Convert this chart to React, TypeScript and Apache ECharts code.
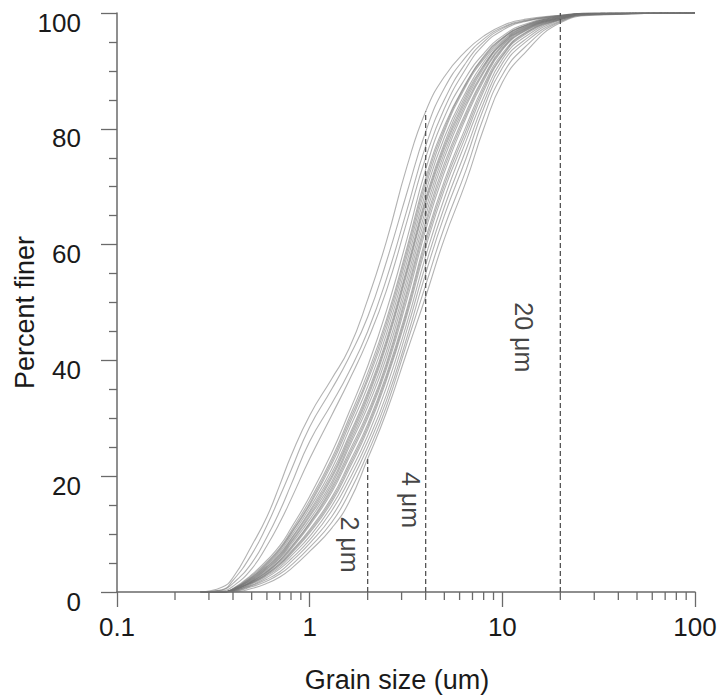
import React, { useEffect, useRef } from "react";
import * as echarts from "echarts";

// Grain size grid (um) shared by all curves
const grainSizes = [0.27, 0.35, 0.4, 0.5, 0.6, 0.7, 0.8, 1, 1.3, 1.6, 2, 2.5, 3.2, 4, 5, 6.5, 8, 10, 13, 20, 30, 100];

// Percent finer for each sample
const curves: number[][] = [
  // early / steep samples
  [0, 0.8, 2.5, 8, 13, 18.5, 23.5, 30.5, 36.8, 42, 50.5, 60.5, 73.5, 83, 89, 93.5, 96, 97.8, 98.9, 99.6, 100, 100],
  [0, 0.4, 2, 6.5, 11.5, 16.5, 21, 28.5, 35, 40.5, 47.5, 57, 69, 79.5, 87, 92.5, 95.5, 97.5, 98.7, 99.6, 100, 100],
  [0, 0.3, 1.5, 5, 9.5, 14, 18.5, 26, 32.5, 38, 45, 54, 66, 77, 85, 91.5, 95, 97.3, 98.6, 99.5, 100, 100],
  [0, 0.2, 1, 4, 8, 12, 16, 23, 30.5, 36.5, 43.5, 52, 64, 75, 83.5, 90.5, 94.5, 97, 98.5, 99.5, 100, 100],
  // main band
  [0, 0, 0.6, 3, 5.5, 8, 11, 16.5, 24, 31, 39, 48.5, 61, 73, 82, 89, 93, 96, 98, 99.5, 99.9, 100],
  [0, 0, 0.5, 2.8, 5.2, 7.6, 10.5, 15.8, 23, 30, 37.8, 47, 59.5, 71.5, 80.5, 88, 92.5, 95.7, 97.8, 99.4, 99.9, 100],
  [0, 0, 0.5, 2.6, 5, 7.4, 10.2, 15.3, 22.5, 29.4, 37, 46.3, 58.8, 70.8, 80, 87.8, 92.3, 95.6, 97.8, 99.4, 99.9, 100],
  [0, 0, 0.5, 2.5, 4.8, 7.2, 10, 15, 22, 28.8, 36.5, 45.5, 58, 70, 79.5, 87.5, 92, 95.5, 97.7, 99.4, 99.9, 100],
  [0, 0, 0.4, 2.4, 4.6, 6.9, 9.6, 14.5, 21.2, 28, 35.5, 44.5, 57, 69, 78.5, 86.5, 91.5, 95.2, 97.6, 99.3, 99.9, 100],
  [0, 0, 0.4, 2.3, 4.4, 6.6, 9.2, 14, 20.5, 27, 34.5, 43.5, 56, 68, 77.5, 86, 91, 95, 97.5, 99.3, 99.9, 100],
  [0, 0, 0.4, 2.2, 4.3, 6.4, 9, 13.7, 20, 26.5, 34, 43, 55.5, 67.5, 77, 85.5, 90.8, 94.8, 97.4, 99.2, 99.9, 100],
  [0, 0, 0.4, 2.1, 4.1, 6.2, 8.7, 13.3, 19.6, 26, 33.5, 42.5, 55, 67, 76.5, 85, 90.5, 94.7, 97.3, 99.2, 99.9, 100],
  [0, 0, 0.4, 2, 4, 6, 8.5, 13, 19, 25.5, 32.8, 41.5, 54, 66, 75.8, 84.5, 90, 94.5, 97.2, 99.2, 99.9, 100],
  [0, 0, 0.3, 1.9, 3.8, 5.8, 8.2, 12.5, 18.5, 25, 32, 40.5, 53, 65, 75, 84, 89.7, 94.3, 97.1, 99.1, 99.9, 100],
  [0, 0, 0.3, 1.8, 3.6, 5.5, 7.8, 12, 18, 24.2, 31, 39.5, 52, 64, 74, 83, 89, 94, 97, 99.1, 99.9, 100],
  [0, 0, 0.3, 1.8, 3.5, 5.4, 7.6, 11.8, 17.6, 23.7, 30.5, 39, 51.3, 63.3, 73.3, 82.5, 88.7, 93.8, 96.9, 99.1, 99.9, 100],
  [0, 0, 0.3, 1.7, 3.4, 5.2, 7.4, 11.5, 17.2, 23.2, 30, 38.5, 50.5, 62.5, 72.5, 82, 88.3, 93.6, 96.8, 99, 99.9, 100],
  [0, 0, 0.3, 1.6, 3.2, 4.9, 7, 10.8, 16.3, 22.2, 29, 37.5, 49, 61, 71, 80.5, 87.5, 93, 96.5, 99, 99.8, 100],
  [0, 0, 0.3, 1.6, 3.1, 4.8, 6.8, 10.5, 15.9, 21.7, 28.5, 37, 48.4, 60.3, 70.3, 79.8, 87, 92.7, 96.4, 98.9, 99.8, 100],
  [0, 0, 0.2, 1.5, 3, 4.6, 6.6, 10.2, 15.5, 21.2, 28, 36.5, 47.8, 59.5, 69.5, 79, 86.5, 92.5, 96.2, 98.9, 99.8, 100],
  [0, 0, 0.2, 1.4, 2.8, 4.3, 6.2, 9.6, 14.8, 20.3, 27, 35.3, 46.5, 58, 68, 78, 85.5, 92, 95.8, 98.9, 99.8, 100],
  [0, 0, 0.2, 1.2, 2.5, 4, 5.7, 9, 14, 19.3, 26, 34, 45.3, 56.5, 66.5, 76.5, 84.5, 91.3, 95.3, 98.8, 99.8, 100],
  [0, 0, 0.1, 1.1, 2.2, 3.5, 5.2, 8.4, 13, 18.3, 25, 33, 44, 55, 65, 75, 83.5, 90.5, 94.8, 98.6, 99.7, 100],
  [0, 0, 0.1, 0.9, 1.9, 3.1, 4.6, 7.7, 12, 17, 24, 32, 43, 53, 63, 73, 82, 89.3, 94, 98.5, 99.7, 100],
  // late / coarse sample
  [0, 0, 0, 0.6, 1.5, 2.6, 4, 7, 11, 15.5, 23, 31, 41.5, 51, 61, 71, 80, 88, 93, 98.3, 99.6, 100],
];

// Reference grain sizes (dashed lines)
const refSizes = [2, 4, 20];
const refTops = [23.5, 83, 100];
const refLabels = ["2 μm", "4 μm", "20 μm"];
const refLabelY = [8.2, 15.9, 44];

// Axis ticks
const xMajorTicks = [0.1, 1, 10, 100];
const xMinorTicks = [0.2, 0.3, 0.4, 0.5, 0.6, 0.7, 0.8, 0.9, 2, 3, 4, 5, 6, 7, 8, 9, 20, 30, 40, 50, 60, 70, 80, 90];

const FONT = 'Arial, "Liberation Sans", sans-serif';
const AXIS_COLOR = "#6a6a6a";
const labelShift = [18, 15, 36];

export default function App() {
  const ref = useRef<HTMLDivElement>(null);

  useEffect(() => {
    if (!ref.current) return;
    const chart = echarts.init(ref.current, null, { renderer: "svg" });

    const curveSeries = curves.map((vals, i) => ({
      type: "line",
      name: "s" + i,
      data: grainSizes.map((x, j) => [x, vals[j]]),
      showSymbol: false,
      symbol: "none",
      smooth: true,
      lineStyle: { color: "rgba(115,115,115,0.55)", width: 1.1 },
      silent: true,
      z: 2,
    }));

    const refSeries = refSizes.map((x, i) => ({
      type: "line",
      data: [
        [x, 0],
        [x, refTops[i]],
      ],
      showSymbol: false,
      symbol: "none",
      lineStyle: { color: "#555", width: 1.3, type: [5, 3] },
      silent: true,
      z: 3,
    }));

    const labelSeries = {
      type: "scatter",
      symbolSize: 0,
      silent: true,
      data: refSizes.map((x, i) => ({
        value: [x, refLabelY[i]],
        label: {
          show: true,
          formatter: refLabels[i],
          position: "inside",
          // offset is applied in the rotated frame: [0, d] moves the text left by d
          offset: [0, labelShift[i]],
          rotate: -90,
          fontSize: 25,
          fontFamily: FONT,
          color: "#111",
        },
      })),
      z: 4,
    };

    const minorTickSeries = {
      type: "custom",
      coordinateSystem: "cartesian2d",
      clip: false,
      silent: true,
      data: xMinorTicks.map((v) => [v, 0]),
      renderItem: (params: any, api: any) => {
        const p = api.coord([api.value(0), 0]);
        return {
          type: "line",
          shape: { x1: p[0], y1: p[1], x2: p[0], y2: p[1] + 8 },
          style: { stroke: AXIS_COLOR, lineWidth: 1.3 },
        };
      },
      z: 5,
    };

    chart.setOption({
      animation: false,
      backgroundColor: "#fff",
      grid: { left: 117, right: 25, top: 13, bottom: 108, containLabel: false, outerBoundsMode: "none" },
      xAxis: {
        type: "log",
        logBase: 10,
        min: 0.1,
        max: 100,
        name: "Grain size (um)",
        nameLocation: "middle",
        nameGap: 74,
        nameMoveOverlap: false,
        nameTextStyle: { fontSize: 27, fontFamily: FONT, color: "#1a1a1a", padding: [0, 18, 0, 0] },
        axisLine: { show: true, lineStyle: { color: AXIS_COLOR, width: 1.5 } },
        axisTick: { show: true, inside: false, length: 15, lineStyle: { color: AXIS_COLOR, width: 1.3 } },
        minorTick: { show: false },
        splitLine: { show: false },
        axisLabel: {
          fontSize: 26,
          fontFamily: FONT,
          color: "#1a1a1a",
          margin: 22,
          formatter: (v: number) => {
            const m = xMajorTicks.find((t) => Math.abs(t - v) / t < 1e-6);
            return m !== undefined ? String(m) : "";
          },
        },
      },
      yAxis: {
        type: "value",
        min: 0,
        max: 100,
        interval: 20,
        name: "Percent finer",
        nameLocation: "middle",
        nameGap: 79,
        nameRotate: 90,
        nameMoveOverlap: false,
        nameTextStyle: { fontSize: 27, fontFamily: FONT, color: "#1a1a1a", padding: [0, 20, 0, 0] },
        axisLine: { show: true, lineStyle: { color: AXIS_COLOR, width: 1.5 } },
        axisTick: { show: true, inside: false, length: 16, lineStyle: { color: AXIS_COLOR, width: 1.3 } },
        minorTick: { show: true, splitNumber: 4, length: 8, lineStyle: { color: AXIS_COLOR, width: 1.3 } },
        splitLine: { show: false },
        axisLabel: {
          fontSize: 26,
          fontFamily: FONT,
          color: "#1a1a1a",
          margin: 36,
          verticalAlign: "top",
          lineHeight: 19,
        },
      },
      series: [...curveSeries, ...refSeries, labelSeries, minorTickSeries],
    });

    return () => chart.dispose();
  }, []);

  return (
    <div
      ref={ref}
      style={{ position: "fixed", left: 0, top: 0, width: 720, height: 700, background: "#fff" }}
    />
  );
}
